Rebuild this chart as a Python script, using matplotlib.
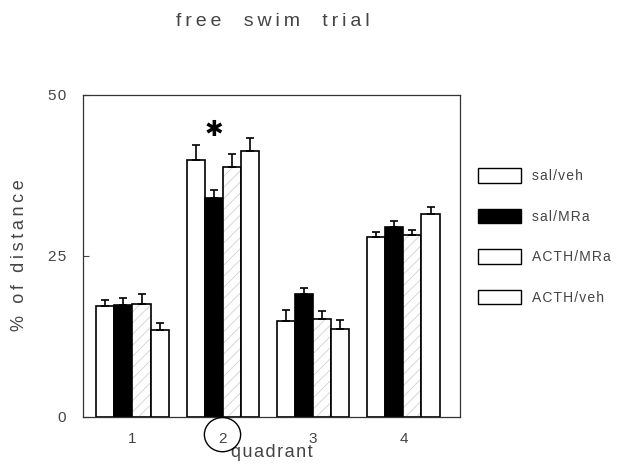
import matplotlib
matplotlib.use('Agg')
import matplotlib.pyplot as plt
import numpy as np
from matplotlib.patches import Ellipse

plt.rcParams['font.family'] = ['Liberation Sans', 'DejaVu Sans']
plt.rcParams['hatch.linewidth'] = 0.6

quadrants = ['1', '2', '3', '4']
groups = ['sal/veh', 'sal/MRa', 'ACTH/MRa', 'ACTH/veh']
means = {
    'sal/veh': [17.2, 39.8, 14.9, 27.9],
    'sal/MRa': [17.3, 33.9, 19.0, 29.5],
    'ACTH/MRa': [17.5, 38.8, 15.2, 28.2],
    'ACTH/veh': [13.4, 41.3, 13.6, 31.5],
}
sems = {
    'sal/veh': [0.9, 2.3, 1.6, 0.7],
    'sal/MRa': [1.1, 1.3, 1.0, 0.9],
    'ACTH/MRa': [1.6, 1.9, 1.2, 0.7],
    'ACTH/veh': [1.1, 1.9, 1.4, 1.1],
}
star_value = 44.5

faces = {'sal/veh': 'white', 'sal/MRa': 'black', 'ACTH/MRa': 'white', 'ACTH/veh': 'white'}
hatches = {'sal/veh': None, 'sal/MRa': None, 'ACTH/MRa': '///', 'ACTH/veh': None}
text_col = '#444444'


def spaced(s, gap='\u2009'):
    # the scanned lettering is set wide
    return gap.join(s)


fig = plt.figure(figsize=(6.25, 4.75), dpi=100)
ax = fig.add_axes([0.1325, 0.123, 0.604, 0.678])

x = np.arange(1, 5)
w = 0.2
for i, g in enumerate(groups):
    pos = x + (i - 1.5) * w
    if hatches[g]:
        ax.bar(pos, means[g], width=w, color='white', edgecolor='#d0d0d0',
               linewidth=0, hatch=hatches[g])
        ax.bar(pos, means[g], width=w, fill=False, edgecolor='black', linewidth=1.2)
    else:
        ax.bar(pos, means[g], width=w, color=faces[g], edgecolor='black', linewidth=1.2)
    ax.errorbar(pos, means[g], yerr=[np.zeros(4), sems[g]], fmt='none',
                ecolor='black', elinewidth=1.2, capsize=3, capthick=1.2)

# significance mark over quadrant 2, sal/MRa
ax.text(2 - 0.5 * w, star_value, '\u2731', ha='center', va='center',
        fontsize=16, fontweight='bold', color='black', family=['DejaVu Sans'])

ax.set_xlim(0.45, 4.63)
ax.set_ylim(0, 50)
ax.set_yticks([0, 25, 50])
ax.set_yticklabels([spaced(str(v), '\u200a') for v in [0, 25, 50]])
ax.set_xticks(x)
ax.set_xticklabels(quadrants)
ax.tick_params(axis='y', direction='in', length=4, colors=text_col, labelsize=11, pad=12)
ax.tick_params(axis='x', length=0, colors=text_col, labelsize=11, pad=11)
for s in ax.spines.values():
    s.set_linewidth(0.9)
    s.set_color('#333333')

ax.set_ylabel(spaced('% of distance'), fontsize=13, color=text_col, labelpad=14)
ax.set_xlabel(spaced('quadrant', '\u200a'), fontsize=13, color=text_col, labelpad=-1)
fig.text(0.437, 0.955, spaced('free  swim  trial'), ha='center', va='center',
         fontsize=14, color=text_col)

# circle around quadrant label 2
circ = Ellipse((0.356, 0.085), 0.058, 0.072, transform=fig.transFigure,
               fill=False, edgecolor='black', linewidth=1.0)
fig.patches.append(circ)

handles = []
for g in groups:
    handles.append(plt.Rectangle((0, 0), 1, 1, facecolor=faces[g], edgecolor='black',
                                 linewidth=1.0))
leg = fig.legend(handles, [spaced(g, '\u200a') for g in groups], loc='upper left',
                 bbox_to_anchor=(0.744, 0.672), frameon=False,
                 handlelength=3.1, handleheight=1.2, labelspacing=1.85,
                 fontsize=10, handletextpad=0.8)
for t in leg.get_texts():
    t.set_color(text_col)

fig.savefig('out.png', dpi=100)
